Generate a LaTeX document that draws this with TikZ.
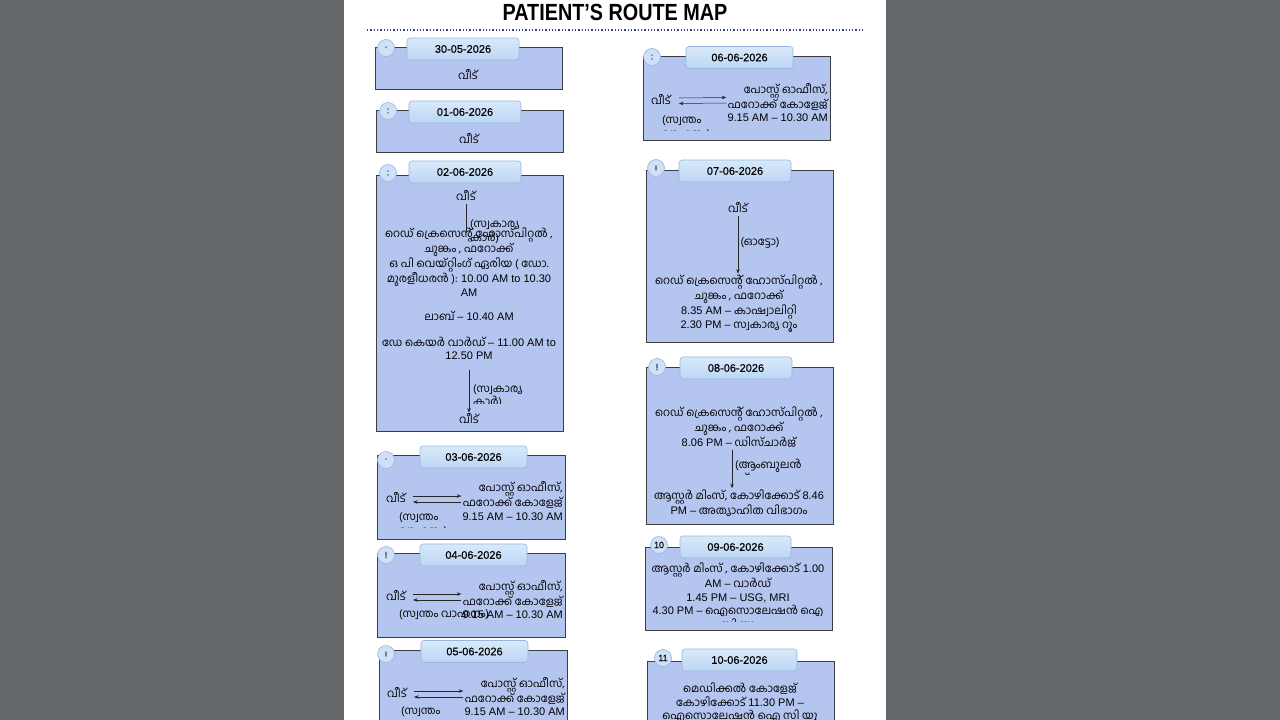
\documentclass[tikz,border=0pt]{standalone}
\usepackage{fontspec}
\usetikzlibrary{arrows.meta}
\setmainfont[Script=Malayalam]{Hind Kochi}
\newfontfamily\latinfont{Liberation Sans}
\newfontfamily\datefont[FakeBold=0.3]{Liberation Sans}
\newcommand\lat[1]{{\latinfont\fontsize{11}{13.6}\selectfont #1}}
\definecolor{bggray}{RGB}{99,103,106}
\definecolor{boxfill}{RGB}{180,198,239}
\definecolor{boxline}{RGB}{60,60,66}
\definecolor{tabtop}{RGB}{216,233,250}
\definecolor{tabbot}{RGB}{188,214,244}
\definecolor{tabline}{RGB}{150,182,222}
\definecolor{badgefill}{RGB}{206,225,247}
\definecolor{dotline}{RGB}{50,70,125}
\tikzset{
  daybox/.style={draw=boxline, fill=boxfill, line width=0.9pt, anchor=north west, inner sep=0pt},
  tab/.style={draw=tabline, line width=0.6pt, rounded corners=3pt, top color=tabtop, bottom color=tabbot,
    minimum height=22pt, inner sep=0pt, font=\datefont\fontsize{11}{13}\selectfont},
  badge/.style={circle, draw=tabline, line width=0.6pt, fill=badgefill, minimum size=17pt, inner sep=0pt,
    font=\datefont\fontsize{9}{10}\selectfont},
  txt/.style={font=\fontsize{11}{13.6}\selectfont, align=center, inner sep=0pt},
  rtxt/.style={txt, align=right, anchor=east},
  ltxt/.style={txt, align=left, anchor=west},
  arr/.style={-{Stealth[length=4.5pt,width=3.5pt]}, line width=0.5pt, draw=black!85},
  ln/.style={line width=0.5pt, draw=black!85},
}
\begin{document}
\begin{tikzpicture}[x=1pt,y=-1pt]
\useasboundingbox (0,0) rectangle (1280,720);
\clip (0,0) rectangle (1280,720);
\fill[bggray] (0,0) rectangle (1280,720);
\fill[white] (344,0) rectangle (886,720);
\node[inner sep=0pt] (title) at (615,12) {\scalebox{1}[1.18]{\latinfont\bfseries\fontsize{19.8}{22}\selectfont PATIENT’S ROUTE MAP}};
\draw[dotline, dotted, line width=1.3pt] (367,30) -- (863,30);

% ---------- Box 1 : 30-05-2026
\node[daybox, minimum width=187pt, minimum height=42pt] (b1) at (375,47) {};
\node[tab, minimum width=112pt] (t1) at (463,49) {30-05-2026};
\node[badge] (c1) at (386,48) {·};
\node[txt] (h1) at (468,75) {വീട്};

% ---------- Box 2 : 01-06-2026
\node[daybox, minimum width=187pt, minimum height=42pt] (b2) at (376,110) {};
\node[tab, minimum width=112pt] (t2) at (465,112) {01-06-2026};
\node[badge] (c2) at (388,111) {:};
\node[txt] (h2) at (469,139) {വീട്};

% ---------- Box 3 : 02-06-2026
\node[daybox, minimum width=187pt, minimum height=256pt] (b3) at (376,175) {};
\node[tab, minimum width=112pt] (t3) at (465,172) {02-06-2026};
\node[badge] (c3) at (388,173) {:};
\node[txt] (h3) at (466,196) {വീട്};
\node[txt] (r3) at (469,262) {റെഡ് ക്രെസെന്റ് ഹോസ്പിറ്റൽ ,\\ചുങ്കം , ഫറോക്ക്\\ഒ പി  വെയ്റ്റിംഗ് ഏരിയ ( ഡോ.\\മുരളീധരൻ ): \lat{10.00 AM to 10.30}\\\lat{AM}};
\draw[ln] ([yshift=-3pt]h3.south) -- ([yshift=-6pt]h3.south |- r3.north);
\node[ltxt] (p3) at (470,231.5) {(സ്വകാര്യ\\കാർ)};
\node[txt] (lab3) at (469,316) {ലാബ്  \lat{– 10.40 AM}};
\node[txt] (dc3) at (469,348.5) {ഡേ കെയർ വാർഡ് \lat{– 11.00 AM to}\\\lat{12.50 PM}};
\node[txt] (hb3) at (469,419) {വീട്};
\draw[arr] ([yshift=-10pt]dc3.south) -- ([yshift=1pt]hb3.north);
\begin{scope}
\clip (470,378) rectangle (540,403);
\node[ltxt] (q3) at (473,396) {(സ്വകാര്യ\\കാർ)};
\end{scope}

% ---------- Box 4 : 03-06-2026
\node[daybox, minimum width=188pt, minimum height=84pt] (b4) at (377,455) {};
\node[tab, minimum width=107pt] (t4) at (473.5,457) {03-06-2026};
\node[badge] (c4) at (386,460) {·};
\node[txt] (h4) at (396,498) {വീട്};
\node[rtxt] (d4) at (563,501) {പോസ്റ്റ് ഓഫീസ്,\\ഫറോക്ക് കോളേജ്\\\lat{9.15 AM – 10.30 AM}};
\draw[arr] ([xshift=7pt,yshift=2pt]h4.east) -- ([xshift=-1pt,yshift=5pt]d4.west);
\draw[arr] ([xshift=-1pt,yshift=-1pt]d4.west) -- ([xshift=7pt,yshift=-4pt]h4.east);
\begin{scope}
\clip (395,505) rectangle (470,527);
\node[ltxt] (s4) at (399,524.8) {(സ്വന്തം\\വാഹനം)};
\end{scope}

% ---------- Box 5 : 04-06-2026
\node[daybox, minimum width=188pt, minimum height=84pt] (b5) at (377,553) {};
\node[tab, minimum width=107pt] (t5) at (473.5,555) {04-06-2026};
\node[badge] (c5) at (386,555) {!};
\node[txt] (h5) at (396,596) {വീട്};
\node[rtxt] (d5) at (563,599.5) {പോസ്റ്റ് ഓഫീസ്,\\ഫറോക്ക് കോളേജ്\\\lat{9.15 AM – 10.30 AM}};
\draw[arr] ([xshift=7pt,yshift=2pt]h5.east) -- ([xshift=-1pt,yshift=5.5pt]d5.west);
\draw[arr] ([xshift=-1pt,yshift=-0.5pt]d5.west) -- ([xshift=7pt,yshift=-4pt]h5.east);
\node[ltxt] (s5) at (399,615) {(സ്വന്തം വാഹനം)};

% ---------- Box 6 : 05-06-2026
\node[daybox, minimum width=188pt, minimum height=84pt] (b6) at (379,650) {};
\node[tab, minimum width=107pt] (t6) at (474.5,651.5) {05-06-2026};
\node[badge] (c6) at (386,654) {ı};
\node[txt] (h6) at (397,693) {വീട്};
\node[rtxt] (d6) at (565,696.5) {പോസ്റ്റ് ഓഫീസ്,\\ഫറോക്ക് കോളേജ്\\\lat{9.15 AM – 10.30 AM}};
\draw[arr] ([xshift=7pt,yshift=2pt]h6.east) -- ([xshift=-1pt,yshift=5.5pt]d6.west);
\draw[arr] ([xshift=-1pt,yshift=-0.5pt]d6.west) -- ([xshift=7pt,yshift=-4pt]h6.east);
\node[ltxt] (s6) at (401,718.8) {(സ്വന്തം\\വാഹനം)};

% ---------- Box 7 : 06-06-2026
\node[daybox, minimum width=187pt, minimum height=84pt] (b7) at (643,56) {};
\node[tab, minimum width=107pt] (t7) at (739.5,57.5) {06-06-2026};
\node[badge] (c7) at (652,57) {:};
\node[txt] (h7) at (661,100) {വീട്};
\node[rtxt] (d7) at (828,102.5) {പോസ്റ്റ് ഓഫീസ്,\\ഫറോക്ക് കോളേജ്\\\lat{9.15 AM – 10.30 AM}};
\draw[arr] ([xshift=8pt,yshift=2pt]h7.east) -- ([xshift=-1pt,yshift=5pt]d7.west);
\draw[arr] ([xshift=-1pt,yshift=-0.5pt]d7.west) -- ([xshift=8pt,yshift=-3.5pt]h7.east);
\begin{scope}
\clip (658,110) rectangle (730,130);
\node[ltxt] (s7) at (662,127.8) {(സ്വന്തം\\വാഹനം)};
\end{scope}

% ---------- Box 8 : 07-06-2026
\node[daybox, minimum width=187pt, minimum height=172pt] (b8) at (646,170) {};
\node[tab, minimum width=112pt] (t8) at (735,171) {07-06-2026};
\node[badge] (c8) at (656,168) {ı};
\node[txt] (h8) at (738,208) {വീട്};
\node[txt] (r8) at (739,303.5) {റെഡ് ക്രെസെന്റ് ഹോസ്പിറ്റൽ ,\\ചുങ്കം , ഫറോക്ക്\\\lat{8.35 AM –} കാഷ്വാലിറ്റി\\\lat{2.30 PM –} സ്വകാര്യ റൂം};
\draw[arr] ([yshift=-3pt]h8.south) -- ([yshift=1pt]h8.south |- r8.north);
\node[txt] (o8) at (760,243) {(ഓട്ടോ)};

% ---------- Box 9 : 08-06-2026
\node[daybox, minimum width=187pt, minimum height=157pt] (b9) at (646,367) {};
\node[tab, minimum width=112pt] (t9) at (736,368) {08-06-2026};
\node[badge] (c9) at (657,367) {!};
\node[txt] (r9) at (739,427) {റെഡ് ക്രെസെന്റ് ഹോസ്പിറ്റൽ ,\\ചുങ്കം , ഫറോക്ക്\\\lat{8.06 PM –} ഡിസ്ചാർജ്};
\node[txt] (a9) at (739,503) {ആസ്റ്റർ മിംസ്, കോഴിക്കോട് \lat{8.46}\\\lat{PM –} അത്യാഹിത വിഭാഗം};
\draw[arr] ([xshift=-7pt,yshift=-3pt]r9.south) -- ([xshift=-7pt,yshift=1pt]a9.north);
\begin{scope}
\clip (733,455) rectangle (820,474);
\node[ltxt] (m9) at (735,471.8) {(ആംബുലൻ\\സ്)};
\end{scope}

% ---------- Box 10 : 09-06-2026
\node[daybox, minimum width=187pt, minimum height=83pt] (b10) at (645,547) {};
\node[tab, minimum width=111pt] (t10) at (735.5,547) {09-06-2026};
\begin{scope}
\clip (646,560) rectangle (831,621);
\node[txt] (r10) at (738,597.8) {ആസ്റ്റർ മിംസ് , കോഴിക്കോട് \lat{1.00}\\\lat{AM –} വാർഡ്\\\lat{1.45 PM – USG, MRI}\\\lat{4.30 PM –} ഐസൊലേഷൻ ഐ\\സി യു};
\end{scope}
\node[badge] (c10) at (659,545) {10};

% ---------- Box 11 : 10-06-2026
\node[daybox, minimum width=187pt, minimum height=70pt] (b11) at (647,661) {};
\node[tab, minimum width=115pt] (t11) at (739.5,660) {10-06-2026};
\node[badge] (c11) at (663,658) {11};
\node[txt] (r11) at (740,703.5) {മെഡിക്കൽ കോളേജ്\\കോഴിക്കോട് \lat{11.30 PM –}\\ഐസൊലേഷൻ ഐ സി യു};
\end{tikzpicture}
\end{document}
